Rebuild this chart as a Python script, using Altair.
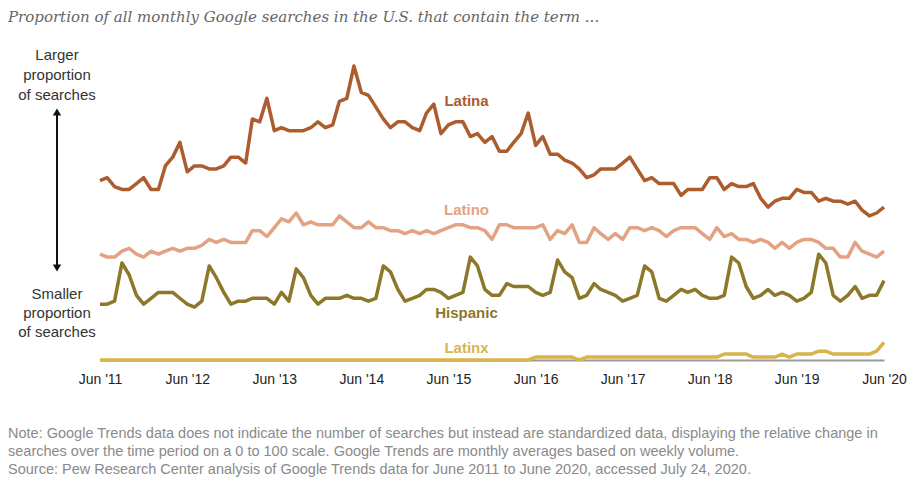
import altair as alt
import pandas as pd

# Monthly dates, Jun 2011 .. Jun 2020
months = pd.date_range("2011-06-01", periods=109, freq="MS").strftime("%Y-%m-%dT00:00:00").tolist()

latina = [61, 62, 59, 58, 58, 60, 62, 58, 58, 66, 69, 74, 64, 66, 66, 65, 65, 66, 69, 69, 67, 82, 81, 89, 78, 79, 78, 78,
          78, 79, 81, 79, 80, 88, 89, 100, 91, 90, 86, 82, 79, 81, 81, 79, 78, 84, 87, 77, 80, 81, 81, 76, 77, 74, 76,
          71, 71, 74, 77, 84, 73, 76, 70, 70, 68, 67, 65, 62, 63, 65, 65, 65, 67, 69, 65, 61, 62, 60, 60, 60, 56, 58,
          58, 58, 62, 62, 58, 60, 59, 59, 60, 55, 52, 54, 55, 55, 58, 57, 57, 54, 55, 54, 54, 53, 54, 51, 49, 50, 52]

latino = [36, 35, 35, 37, 38, 36, 35, 37, 36, 37, 38, 37, 38, 38, 39, 41, 40, 41, 40, 40, 40, 44, 44, 42, 45, 48, 47, 50,
          46, 47, 46, 46, 46, 49, 47, 45, 45, 47, 45, 45, 44, 44, 43, 44, 43, 44, 43, 44, 45, 46, 46, 45, 45, 44, 41,
          46, 46, 45, 45, 45, 45, 46, 41, 44, 43, 46, 40, 40, 45, 43, 41, 43, 41, 45, 45, 44, 45, 44, 42, 44, 45, 45,
          45, 43, 41, 45, 42, 43, 41, 41, 40, 41, 40, 38, 40, 38, 40, 41, 41, 40, 38, 38, 35, 35, 40, 37, 36, 35, 37]

hispanic = [19, 19, 20, 33, 29, 22, 19, 21, 23, 23, 23, 21, 19, 18, 20, 32, 28, 23, 19, 20, 20, 21, 21, 21, 19, 23, 20, 31,
            28, 22, 19, 21, 21, 21, 22, 21, 21, 20, 21, 32, 30, 24, 20, 21, 22, 24, 24, 23, 21, 22, 23, 35, 32, 24, 22,
            22, 26, 25, 25, 25, 23, 22, 23, 34, 30, 28, 21, 22, 26, 24, 23, 22, 20, 21, 22, 32, 30, 21, 20, 22, 24, 23,
            24, 22, 21, 21, 22, 35, 33, 25, 21, 22, 24, 22, 23, 22, 20, 21, 23, 36, 33, 22, 20, 22, 25, 21, 22, 22, 27]

latinx = [0] * 60 + [1, 1, 1, 1, 1, 1, 0] + [1] * 19 + [2, 2, 2, 2, 1, 1, 1, 1, 2, 1, 2, 2, 2, 3, 3,
                                                   2, 2, 2, 2, 2, 2, 3, 6]

terms = ["Latina", "Latino", "Hispanic", "Latinx"]
colors = ["#ad5c2e", "#e3a382", "#8d782a", "#d7b44c"]

label_dates = ["2015-08-16T00:00:00"] * 4
label_values = [88, 51, 16, 4]

june_years = list(range(2011, 2021))

rows = []
for term, series in zip(terms, [latina, latino, hispanic, latinx]):
    for d, v in zip(months, series):
        rows.append({"date": d, "term": term, "value": v})
df = pd.DataFrame(rows)
labels_df = pd.DataFrame({"date": label_dates, "term": terms, "value": label_values})

color_scale = alt.Scale(domain=terms, range=colors)
x_enc = alt.X(
    "date:T",
    scale=alt.Scale(domain=[alt.DateTime(year=2011, month=6, date=1), alt.DateTime(year=2020, month=6, date=1)]),
    axis=alt.Axis(
        values=[alt.DateTime(year=y, month=6, date=1) for y in june_years],
        format="%b '%y", title=None, ticks=False, grid=False,
        labelFont="Liberation Sans", labelFontSize=14, labelColor="#222",
        labelPadding=12, labelFlush=False, labelOverlap=False,
        domainColor="#9a9a9a", domainWidth=2,
    ),
)
y_enc = alt.Y("value:Q", scale=alt.Scale(domain=[0, 100], nice=False), axis=None)

lines = alt.Chart(df).mark_line(strokeWidth=3.5, strokeJoin="round").encode(
    x=x_enc, y=y_enc,
    color=alt.Color("term:N", scale=color_scale, legend=None),
    detail="term:N",
)

labels = alt.Chart(labels_df).mark_text(
    font="Liberation Sans", fontSize=15, fontWeight="bold"
).encode(
    x=alt.X("date:T"), y=alt.Y("value:Q"), text="term:N",
    color=alt.Color("term:N", scale=color_scale, legend=None),
)

one = pd.DataFrame({"k": [0]})


def txt(text, x, y, **kw):
    return alt.Chart(one).mark_text(**kw).encode(
        x=alt.value(x), y=alt.value(y), text=alt.value(text)
    )


title = txt("Proportion of all monthly Google searches in the U.S. that contain the term ...", -92, -49,
            font="DejaVu Serif", fontStyle="italic", fontSize=15, color="#666", align="left", baseline="middle")

larger = txt("Larger\nproportion\nof searches", -43, -11, lineBreak="\n", lineHeight=20,
             font="Liberation Sans", fontSize=15, color="#333", align="center", baseline="middle")
smaller = txt("Smaller\nproportion\nof searches", -43, 228, lineBreak="\n", lineHeight=19,
              font="Liberation Sans", fontSize=15, color="#333", align="center", baseline="middle")

arrow_line = alt.Chart(one).mark_rule(color="#111", strokeWidth=2).encode(
    x=alt.value(-43), y=alt.value(46), y2=alt.value(202)
)
arrow_up = alt.Chart(one).mark_point(shape="triangle-up", filled=True, color="#111", size=70, opacity=1).encode(
    x=alt.value(-43), y=alt.value(46)
)
arrow_down = alt.Chart(one).mark_point(shape="triangle-down", filled=True, color="#111", size=70, opacity=1).encode(
    x=alt.value(-43), y=alt.value(202)
)

note_style = dict(font="Liberation Sans", fontSize=14.5, color="#8a8a8a", align="left", baseline="middle")
note1 = txt("Note: Google Trends data does not indicate the number of searches but instead are standardized data, displaying the relative change in",
            -92, 368, **note_style)
note2 = txt("searches over the time period on a 0 to 100 scale. Google Trends are monthly averages based on weekly volume.",
            -92, 386, **note_style)
note3 = txt("Source: Pew Research Center analysis of Google Trends data for June 2011 to June 2020, accessed July 24, 2020.",
            -92, 404, **note_style)

chart = alt.layer(
    lines, labels, title, larger, smaller, arrow_line, arrow_up, arrow_down, note1, note2, note3
).properties(
    width=784, height=294,
    autosize=alt.AutoSizeParams(type="none"),
    padding={"left": 92, "top": 58, "right": 25, "bottom": 117},
).configure(background="white").configure_view(stroke=None, strokeWidth=0)

chart.save("out.html", embed_options={"renderer": "svg", "actions": False})
